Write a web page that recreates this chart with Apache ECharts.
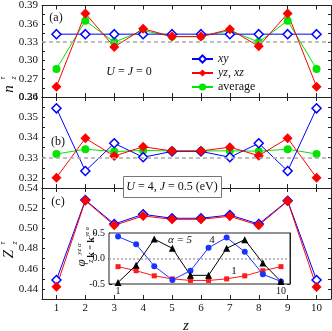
<!DOCTYPE html>
<html>
<head>
<meta charset="utf-8">
<script src="https://cdn.jsdelivr.net/npm/echarts@6/dist/echarts.min.js"></script>
<style>html,body{margin:0;padding:0;background:#fff}#main{width:332px;height:331px}</style>
</head>
<body>
<div id="main"></div>
<script>
// layer index z = 1..10
const zLabels = ['1', '2', '3', '4', '5', '6', '7', '8', '9', '10'];
const insetShown = ['1', '10'];
// (a) U = J = 0
const nXYa = [0.343, 0.343, 0.343, 0.343, 0.343, 0.343, 0.343, 0.343, 0.343, 0.343];
const nYZa = [0.257, 0.377, 0.322, 0.352, 0.339, 0.339, 0.351, 0.323, 0.377, 0.257];
const nAvga = [0.286, 0.365, 0.330, 0.349, 0.339, 0.339, 0.349, 0.330, 0.365, 0.286];
// (b) U = 4, J = 0.5
const nXYb = [0.3544, 0.3234, 0.3371, 0.3302, 0.3331, 0.3331, 0.3302, 0.3371, 0.3234, 0.3544];
const nYZb = [0.3201, 0.3396, 0.3308, 0.3354, 0.3333, 0.3333, 0.3352, 0.3310, 0.3396, 0.3201];
const nAvgb = [0.3318, 0.3342, 0.3330, 0.3336, 0.3333, 0.3333, 0.3334, 0.3332, 0.3342, 0.3318];
// (c) quasiparticle weight
const zXY = [0.4488, 0.5281, 0.5043, 0.5139, 0.5100, 0.5100, 0.5132, 0.5043, 0.5274, 0.4488];
const zYZ = [0.4422, 0.5275, 0.5030, 0.5123, 0.5090, 0.5090, 0.5120, 0.5030, 0.5270, 0.4420];
// inset: phi for alpha = 1, 4, 5
const phi1 = [-0.16, -0.24, -0.34, -0.40, -0.43, -0.43, -0.40, -0.34, -0.24, -0.16];
const phi4 = [0.43, 0.28, -0.15, -0.42, -0.24, 0.21, 0.41, 0.13, -0.31, -0.45];
const phi5 = [-0.47, -0.13, 0.38, 0.20, -0.33, -0.33, 0.20, 0.37, -0.09, -0.45];
const thirdLine = 0.3333;

const FF = '"Liberation Serif", "DejaVu Serif", serif';
const AX = '#222';

function xAx(grid, pos, showLab, fmt, labOnly) {
    return {
        type: 'category', gridIndex: grid, position: pos, data: zLabels, boundaryGap: true,
        axisLine: {show: !labOnly, lineStyle: {color: AX, width: 1}},
        axisTick: {show: !labOnly, inside: true, alignWithLabel: true, length: 4, lineStyle: {color: AX}},
        axisLabel: {show: showLab, interval: 0, showMinLabel: true, showMaxLabel: true, hideOverlap: false,
            margin: grid >= 3 ? 2 : 4, fontFamily: FF, fontSize: grid >= 3 ? 10 : 11, color: '#111', formatter: fmt},
        splitLine: {show: false}
    };
}
function yAx(grid, pos, min, max, step, major, dec, labOnly) {
    return {
        type: 'value', gridIndex: grid, position: pos, min: min, max: max, interval: step,
        axisLine: {show: !labOnly, lineStyle: {color: AX, width: 1}},
        axisTick: {show: !labOnly, inside: true, length: 3, lineStyle: {color: AX}},
        axisLabel: {
            show: pos === 'left' && (grid < 3 || labOnly), margin: 4, fontFamily: FF, fontSize: grid >= 3 ? 10 : 11, color: '#111',
            formatter: function (v) {
                let k = v / major;
                if (Math.abs(k - Math.round(k)) > 1e-6) return '';
                return v.toFixed(dec);
            }
        },
        splitLine: {show: false}
    };
}

function ln(name, data, xi, yi, color, symbol, size, empty) {
    return {
        name: name, type: 'line', data: data, xAxisIndex: xi, yAxisIndex: yi, z: 3,
        symbol: symbol, symbolSize: size, showSymbol: true,
        lineStyle: {color: color, width: 1},
        itemStyle: empty ? {color: '#fff', borderColor: color, borderWidth: 1.5} : {color: color, borderColor: color, borderWidth: 0},
        emphasis: {disabled: true}, animation: false
    };
}
function refLine(xi, yi, val, type, color) {
    return {
        type: 'line', data: [], xAxisIndex: xi, yAxisIndex: yi, z: 1, silent: true,
        markLine: {silent: true, symbol: 'none', label: {show: false}, animation: false,
            lineStyle: {color: color, type: type, width: 1.5}, data: [{yAxis: val}]}
    };
}
function txt(x, y, text, size, extra) {
    return Object.assign({
        type: 'text', x: x, y: y, z: 100,
        style: {text: text, fontFamily: FF, fontSize: size, fill: '#111', align: 'center', verticalAlign: 'middle'}
    }, extra || {});
}
function rot(x, y, text, size, fstyle) {
    return {type: 'text', x: x, y: y, z: 100, rotation: Math.PI / 2,
        style: {text: text, fontFamily: FF, fontStyle: fstyle || 'italic', fontSize: size, fill: '#111', align: 'center', verticalAlign: 'middle'}};
}
const ital = {fontFamily: FF, fontStyle: 'italic', fontSize: 12, fill: '#111'};
const insetFmt = function (v) { return insetShown.indexOf(String(v)) >= 0 ? String(v) : ''; };

let chart = echarts.init(document.getElementById('main'));
let hiddenX = xAx(5, 'bottom', false, null, true);
let option = {
    backgroundColor: '#fff',
    animation: false,
    grid: [
        {left: 42, right: 1, top: 5, height: 92},
        {left: 42, right: 1, top: 97, height: 91},
        {left: 42, right: 1, top: 188, height: 111},
        {left: 109, top: 233, width: 181, height: 51, show: true, backgroundColor: '#fff', borderColor: AX, borderWidth: 1, z: 5},
        {left: 109, top: 233, width: 181, height: 51},
        {left: 109, top: 233, width: 181, height: 51}
    ],
    legend: {
        orient: 'vertical', left: 186, top: 48, itemWidth: 21, itemHeight: 9, itemGap: 2,
        data: ['xy', 'yz, xz', 'average'],
        formatter: function (n) { return n === 'average' ? n : '{i|' + n + '}'; },
        textStyle: {fontFamily: FF, fontSize: 12, color: '#111', rich: {i: {fontFamily: FF, fontStyle: 'italic', fontSize: 12, color: '#111'}}}
    },
    xAxis: [
        xAx(0, 'bottom', false), xAx(0, 'top', false),
        xAx(1, 'bottom', false), xAx(1, 'top', false),
        xAx(2, 'bottom', true), xAx(2, 'top', false),
        xAx(3, 'bottom', false), xAx(3, 'top', false),
        xAx(4, 'bottom', true, insetFmt, true),
        hiddenX
    ],
    yAxis: [
        yAx(0, 'left', 0.24, 0.39, 0.015, 0.03, 2), yAx(0, 'right', 0.24, 0.39, 0.015, 0.03, 2),
        yAx(1, 'left', 0.315, 0.36, 0.005, 0.01, 2), yAx(1, 'right', 0.315, 0.36, 0.005, 0.01, 2),
        yAx(2, 'left', 0.43, 0.54, 0.01, 0.02, 2), yAx(2, 'right', 0.43, 0.54, 0.01, 0.02, 2),
        yAx(3, 'left', -0.5, 0.5, 0.25, 0.5, 1), yAx(3, 'right', -0.5, 0.5, 0.25, 0.5, 1),
        Object.assign(yAx(4, 'left', -0.5, 0.5, 0.25, 0.5, 1, true), {axisLabel: {show: false}}),
        yAx(5, 'left', -0.5, 0.5, 0.25, 0.5, 1, true)
    ],
    series: [
        refLine(0, 0, thirdLine, [4, 3], '#aaa'),
        refLine(2, 2, thirdLine, [4, 3], '#aaa'),
        refLine(6, 6, 0, [2, 2], '#aaa'),
        ln('average', nAvga, 0, 0, '#00e600', 'circle', 8, false),
        ln('xy', nXYa, 0, 0, '#0000ff', 'diamond', 9, true),
        ln('yz, xz', nYZa, 0, 0, '#ff0000', 'diamond', 10, false),
        ln('average', nAvgb, 2, 2, '#00e600', 'circle', 8, false),
        ln('xy', nXYb, 2, 2, '#0000ff', 'diamond', 9, true),
        ln('yz, xz', nYZb, 2, 2, '#ff0000', 'diamond', 10, false),
        ln('xy', zXY, 4, 4, '#0000ff', 'diamond', 9, true),
        ln('yz, xz', zYZ, 4, 4, '#ff0000', 'diamond', 10, false),
        Object.assign(ln('a1', phi1, 6, 6, '#ff1a1a', 'rect', 5, false), {z: 6}),
        Object.assign(ln('a4', phi4, 6, 6, '#1a33ff', 'circle', 6, false), {z: 6}),
        Object.assign(ln('a5', phi5, 6, 6, '#000000', 'triangle', 7, false), {z: 6})
    ],
    graphic: [
        txt(56, 18, '(a)', 12),
        txt(58, 142, '(b)', 12),
        txt(58, 202, '(c)', 12),
        {type: 'text', x: 129, y: 72, z: 100, style: {text: '{i|U} = {i|J} = 0', fontFamily: FF, fontSize: 12, fill: '#111', align: 'center', verticalAlign: 'middle', rich: {i: ital}}},
        {type: 'rect', z: 99, shape: {x: 123.5, y: 176.5, width: 98, height: 21}, style: {fill: '#fff', stroke: '#777', lineWidth: 1}},
        {type: 'text', x: 172, y: 187, z: 100, style: {text: '{i|U} = 4, {i|J} = 0.5 (eV)', fontFamily: FF, fontSize: 12, fill: '#111', align: 'center', verticalAlign: 'middle', rich: {i: ital}}},
        // rotated axis names
        rot(9, 89, 'n', 15), rot(14, 78, 'z', 8), rot(3, 78, 'τ', 8),
        rot(9, 254, 'Z', 15), rot(15, 243, 'z', 8), rot(3, 243, 'τ', 8),
        {type: 'text', x: 186, y: 326, z: 100, style: {text: 'z', fontFamily: FF, fontStyle: 'italic', fontSize: 15, fill: '#111', align: 'center', verticalAlign: 'middle'}},
        // inset labels
        rot(82, 263, 'φ', 13), rot(79, 249, 'yz α', 7),
        {type: 'text', x: 91, y: 250, z: 100, rotation: Math.PI / 2, style: {text: '{s|z }{b|k}{s| = }{b|k}', fontFamily: FF, fontSize: 9, fill: '#111', align: 'center', verticalAlign: 'middle',
            rich: {s: {fontFamily: FF, fontStyle: 'italic', fontSize: 8, fill: '#111'}, b: {fontFamily: FF, fontWeight: 'bold', fontSize: 10, fill: '#111'}}}},
        rot(87, 232, 'yz α', 6), rot(95, 233, 'F', 6),
        {type: 'text', x: 180, y: 240, z: 100, style: {text: 'α = 5', fontFamily: FF, fontStyle: 'italic', fontSize: 11, fill: '#111', align: 'center', verticalAlign: 'middle'}},
        txt(212, 240, '4', 11),
        txt(234, 271, '1', 11)
    ]
};
chart.setOption(option);
</script>
</body>
</html>
